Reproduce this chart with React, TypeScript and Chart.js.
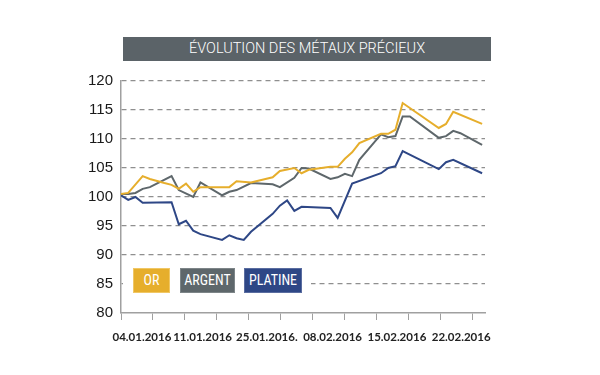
import React, { useEffect, useRef } from "react";
import { Chart, registerables } from "chart.js";
Chart.register(...registerables);

// Trading-day index (0 = 04.01.2016) and index values (base 100)
const orDays = [0, 1, 3, 4, 6, 7, 8, 9, 10, 11, 15, 16, 18, 21, 22, 24, 25, 26, 29, 30, 31, 32, 33, 36, 37, 38, 39, 44, 45, 46, 50];
const orValues = [100.5, 100.7, 103.6, 103.1, 102.4, 102.1, 101.4, 102.3, 100.9, 101.7, 101.7, 102.7, 102.5, 103.4, 104.5, 105.0, 104.1, 104.7, 105.2, 105.2, 106.6, 107.7, 109.3, 110.9, 110.9, 111.6, 116.2, 111.9, 112.6, 114.7, 112.6];

const agDays = [0, 1, 2, 3, 4, 7, 8, 10, 11, 14, 15, 16, 18, 21, 22, 24, 25, 26, 29, 30, 31, 32, 33, 36, 37, 38, 39, 40, 44, 45, 46, 47, 50];
const agValues = [100.5, 100.5, 100.7, 101.4, 101.7, 103.6, 101.2, 100.0, 102.5, 100.3, 100.9, 101.2, 102.4, 102.2, 101.7, 103.3, 105.0, 104.9, 103.1, 103.4, 104.0, 103.6, 106.4, 110.8, 110.3, 110.5, 113.9, 113.9, 110.2, 110.5, 111.4, 111.0, 109.0];

const ptDays = [0, 1, 2, 3, 7, 8, 9, 10, 11, 14, 15, 16, 17, 18, 21, 22, 23, 24, 25, 29, 30, 32, 36, 37, 38, 39, 44, 45, 46, 50];
const ptValues = [100.3, 99.5, 100.0, 99.0, 99.1, 95.3, 95.9, 94.2, 93.6, 92.6, 93.4, 92.9, 92.6, 94.0, 97.1, 98.5, 99.4, 97.6, 98.3, 98.1, 96.4, 102.3, 104.1, 105.0, 105.3, 107.9, 104.8, 106.0, 106.4, 104.1];

const seriesNames = ["OR", "ARGENT", "PLATINE"];
const xLabels = ["04.01.2016", "11.01.2016", "25.01.2016.", "08.02.2016", "15.02.2016", "22.02.2016"];
const xLabelDays = [2.9, 11.3, 20.2, 29.3, 38.2, 47.1];
const xMarkDays = [0, 4.42, 8.84, 13.26, 17.68, 22.1, 26.52, 30.94, 35.36, 39.78, 44.2, 48.62];
const yMin = 80;
const yMax = 120;
const yStep = 5;
const title = "ÉVOLUTION DES MÉTAUX PRÉCIEUX";

const COLORS = { or: "#E6AE2C", ag: "#5E676B", pt: "#2E4786" };
const BORDERS = { or: "#F0C765", ag: "#7D8588", pt: "#5A6DA0" };
const GRID = "#8f8f8f";
const AXIS = "#a0a0a0";

const toPts = (d: number[], v: number[]) => d.map((x, i) => ({ x, y: v[i] }));

export default function App() {
  const ref = useRef<HTMLCanvasElement | null>(null);
  useEffect(() => {
    if (!ref.current) return;
    const isMark = (v: number) => xMarkDays.some((m) => Math.abs(m - v) < 1e-6);
    const chart = new Chart(ref.current, {
      type: "line",
      data: {
        datasets: [
          { label: seriesNames[0], data: toPts(orDays, orValues), borderColor: COLORS.or, borderWidth: 2, pointRadius: 0, tension: 0, fill: false },
          { label: seriesNames[1], data: toPts(agDays, agValues), borderColor: COLORS.ag, borderWidth: 2, pointRadius: 0, tension: 0, fill: false },
          { label: seriesNames[2], data: toPts(ptDays, ptValues), borderColor: COLORS.pt, borderWidth: 2, pointRadius: 0, tension: 0, fill: false },
        ],
      },
      options: {
        animation: false,
        responsive: false,
        maintainAspectRatio: false,
        layout: { padding: { top: 81, right: 115, left: 0, bottom: 0 } },
        plugins: { legend: { display: false }, tooltip: { enabled: false } },
        scales: {
          x: {
            type: "linear",
            min: 0,
            max: 50.4,
            afterBuildTicks: (axis: any) => {
              const vals = [...xMarkDays, ...xLabelDays].sort((a, b) => a - b);
              axis.ticks = vals.map((v) => ({ value: v }));
            },
            afterFit: (axis: any) => {
              axis.height = 62;
            },
            ticks: {
              autoSkip: false,
              maxRotation: 0,
              minRotation: 0,
              padding: 10,
              color: "#222",
              font: { family: "Lato, 'Open Sans', sans-serif", size: 11.5, weight: "bold" },
              callback: (value: any) => {
                const i = xLabelDays.findIndex((d) => Math.abs(d - Number(value)) < 1e-6);
                return i >= 0 ? xLabels[i] : "";
              },
            },
            grid: {
              drawOnChartArea: false,
              drawTicks: true,
              tickLength: 7,
              lineWidth: 1,
              tickColor: (ctx: any) => (ctx.tick && isMark(ctx.tick.value) ? AXIS : "rgba(0,0,0,0)"),
            },
            border: { display: true, color: AXIS, width: 1.5 },
          },
          y: {
            min: yMin,
            max: yMax,
            afterFit: (axis: any) => {
              axis.width = 121;
            },
            ticks: {
              stepSize: yStep,
              padding: 8,
              color: "#1a1a1a",
              font: { family: "'Liberation Sans', Arial, sans-serif", size: 15 },
            },
            grid: {
              drawTicks: false,
              lineWidth: 1.2,
              color: (ctx: any) => (ctx.tick && ctx.tick.value === yMin ? "rgba(0,0,0,0)" : GRID),
            },
            border: { display: true, color: AXIS, width: 1.5, dash: [5, 4] },
          },
        },
      },
    });
    return () => chart.destroy();
  }, []);

  const boxes = [
    { name: seriesNames[0], left: 133, width: 37, bg: COLORS.or, bd: BORDERS.or },
    { name: seriesNames[1], left: 180, width: 55, bg: COLORS.ag, bd: BORDERS.ag },
    { name: seriesNames[2], left: 244, width: 58, bg: COLORS.pt, bd: BORDERS.pt },
  ];

  return (
    <div style={{ position: "absolute", left: 0, top: 0, width: 600, height: 375, background: "#fff" }}>
      <canvas ref={ref} width={600} height={375} style={{ position: "absolute", left: 0, top: 0, width: 600, height: 375 }} />
      <div
        style={{
          position: "absolute",
          left: 123,
          top: 37,
          width: 368,
          height: 24,
          background: "#5B6368",
          color: "#fff",
          fontFamily: "Roboto, 'Open Sans', sans-serif",
          fontWeight: 300,
          fontSize: 14.5,
          lineHeight: "24px",
          textAlign: "center",
          whiteSpace: "nowrap",
        }}
      >
        {title}
      </div>
      <div style={{ position: "absolute", left: 123, top: 264, width: 188, height: 34, background: "#fff" }} />
      {boxes.map((b) => (
        <div
          key={b.name}
          style={{
            position: "absolute",
            left: b.left,
            top: 268,
            width: b.width,
            height: 25,
            boxSizing: "border-box",
            background: b.bg,
            border: `1px solid ${b.bd}`,
            color: "#fff",
            fontFamily: "'Liberation Sans Narrow', 'Roboto Condensed', Roboto, sans-serif",
            fontSize: 14,
            lineHeight: "23px",
            textAlign: "center",
            whiteSpace: "nowrap",
          }}
        >
          {b.name}
        </div>
      ))}
    </div>
  );
}
